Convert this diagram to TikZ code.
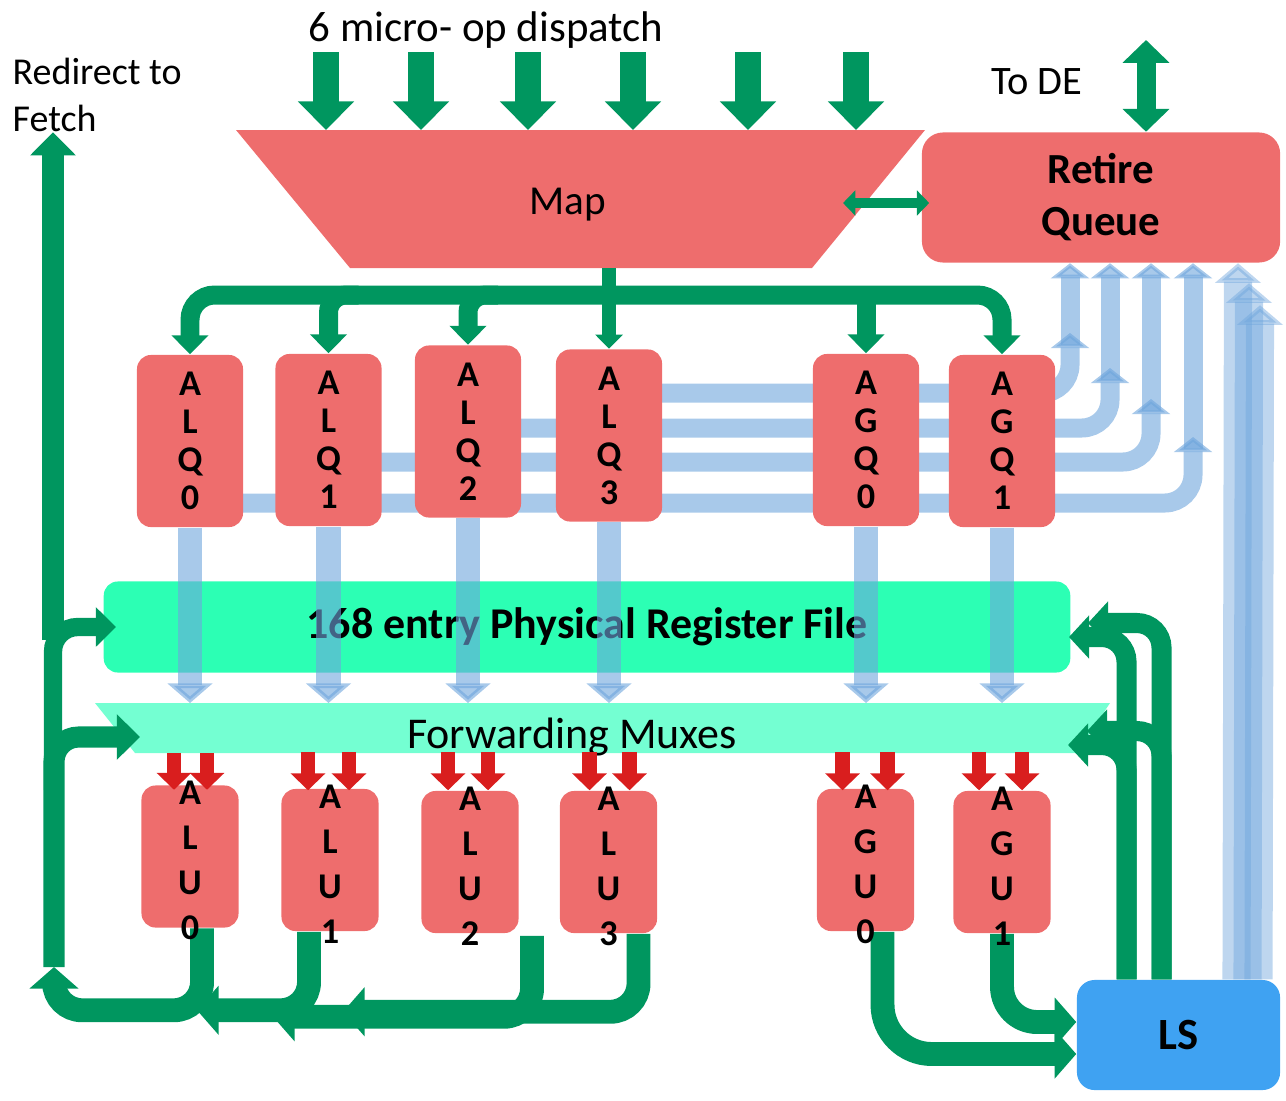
\documentclass[tikz,border=0pt]{standalone}
\usepackage{fontspec}
\setmainfont{Carlito}
\usetikzlibrary{arrows.meta,calc}

\definecolor{boxred}{HTML}{EE6D6D}
\definecolor{busgreen}{HTML}{00965F}
\definecolor{prfgreen}{HTML}{2CFFB4}
\definecolor{muxgreen}{HTML}{74FFD2}
\definecolor{lsblue}{HTML}{3FA2F2}
\definecolor{retblue}{HTML}{6EA5DC}
\definecolor{fwdred}{HTML}{D91E1E}

\tikzset{
	queue/.style={fill=boxred, rounded corners=4pt, minimum width=1.06cm, minimum height=1.72cm, inner sep=0pt, align=center, font=\fontsize{10.3}{10.8}\selectfont\bfseries},
	unit/.style={fill=boxred, rounded corners=4pt, minimum width=0.97cm, minimum height=1.42cm, inner sep=0pt},
	unittxt/.style={inner sep=0pt, align=center, font=\fontsize{10.3}{12.8}\selectfont\bfseries},
	dispatch/.style={draw=busgreen, line width=7.4pt, -{Triangle[width=0pt 2.1, length=0pt 1.1]}},
	branch/.style={draw=busgreen, line width=5.4pt, -{Triangle[width=0pt 1.9, length=0pt 1]}},
	twoway/.style={draw=busgreen, {Triangle[width=0pt 2.4, length=0pt 1.2]}-{Triangle[width=0pt 2.4, length=0pt 1.2]}},
	fwd/.style={draw=fwdred, line width=4pt, -{Triangle[width=0pt 2.4, length=0pt 1.2]}},
	regread/.style={draw=retblue, opacity=0.6, line width=7pt, -{Triangle[width=0pt 1.8, length=0pt 0.8]}},
	retire/.style={draw=retblue, opacity=0.6, line width=5.4pt, rounded corners=8pt, -{Triangle[width=0pt 2, length=0pt 0.8]}},
	lscol/.style={draw=retblue, opacity=0.45, line width=8pt, -{Triangle[width=0pt 1.6, length=0pt 0.7]}},
	result/.style={draw=busgreen, line width=6.8pt, rounded corners=8pt, -{Triangle[width=0pt 2, length=0pt 0.9]}},
	upbus/.style={draw=busgreen, line width=6pt, rounded corners=7pt, -{Triangle[width=0pt 2.1, length=0pt 1.1]}},
	lsbus/.style={draw=busgreen, line width=5.7pt, rounded corners=7pt, -{Triangle[width=0pt 2.1, length=0pt 1]}},
}

\begin{document}
\begin{tikzpicture}[x=0.01cm, y=-0.01cm]
	\useasboundingbox (0,0) rectangle (1286,1100);

	% labels
	\node[font=\fontsize{12.2}{14}\selectfont] (title) at (486,30) {6 micro- op dispatch};
	\node[anchor=north west, inner sep=0pt, align=left, font=\fontsize{10.8}{13.4}\selectfont] (redir) at (12,57) {Redirect to\\Fetch};
	\node[font=\fontsize{11.5}{14}\selectfont] (tode) at (1037,82) {To DE};

	% retire lines, behind the queues
	\coordinate (r0) at (190,503);
	\coordinate (r1) at (330,462);
	\coordinate (r2) at (468,428);
	\coordinate (r3) at (609,393);
	\coordinate (t0) at (1193,437);
	\coordinate (t1) at (1151,399);
	\coordinate (t2) at (1110,368);
	\coordinate (t3) at (1070,333);
	\draw[retire] (r0) -| (t0);
	\draw[retire] (r1) -| (t1);
	\draw[retire] (r2) -| (t2);
	\draw[retire] (r3) -| (t3);

	% map and retire queue
	\fill[boxred] (236,130) -- (925,130) -- (812,268) -- (350,268) -- cycle;
	\coordinate (maptop) at (580,130);
	\coordinate (mapbot) at (580,268);
	\node[font=\fontsize{11.7}{14}\selectfont] (map) at (568,205) {Map};
	\node[fill=boxred, rounded corners=6pt, minimum width=3.58cm, minimum height=1.3cm, align=center, font=\fontsize{12.2}{14.8}\selectfont\bfseries] (rq) at (1101,197.5) {Retire\\Queue};

	\draw[retire] ($(t0)+(0,12)$) -- (t0 |- rq.south);
	\draw[retire] ($(t1)+(0,12)$) -- (t1 |- rq.south);
	\draw[retire] ($(t2)+(0,12)$) -- (t2 |- rq.south);
	\draw[retire] ($(t3)+(0,12)$) -- (t3 |- rq.south);

	\coordinate (d1) at (326,52);
	\coordinate (d2) at (421,52);
	\coordinate (d3) at (528,52);
	\coordinate (d4) at (633,52);
	\coordinate (d5) at (748,52);
	\coordinate (d6) at (856,52);
	\draw[dispatch] (d1) -- (d1 |- maptop);
	\draw[dispatch] (d2) -- (d2 |- maptop);
	\draw[dispatch] (d3) -- (d3 |- maptop);
	\draw[dispatch] (d4) -- (d4 |- maptop);
	\draw[dispatch] (d5) -- (d5 |- maptop);
	\draw[dispatch] (d6) -- (d6 |- maptop);

	\coordinate (de) at (1146,40);
	\draw[twoway, line width=5.4pt] (de) -- (de |- rq.north);
	\coordinate (mr) at (843,203);
	\draw[twoway, line width=2.9pt] (mr) -- ($(mr -| rq.west)+(8,0)$);

	% schedulers
	\node[queue] (alq0) at (190,441) {A\\L\\Q\\0};
	\node[queue] (alq1) at (328.5,440) {A\\L\\Q\\1};
	\node[queue] (alq2) at (468,431.5) {A\\L\\Q\\2};
	\node[queue] (alq3) at (609,435.5) {A\\L\\Q\\3};
	\node[queue] (agq0) at (866,440) {A\\G\\Q\\0};
	\node[queue] (agq1) at (1002,441) {A\\G\\Q\\1};

	\coordinate (bar) at (608,295);
	\draw[branch, line width=4pt] (alq3 |- mapbot) -- (alq3.north);
	\draw[branch, rounded corners=7pt] (bar) -| (alq0.north);
	\draw[branch, rounded corners=7pt] (bar) -| (agq1.north);
	\draw[branch, rounded corners=5pt] ($(alq1 |- bar)+(30,0)$) -| (alq1.north);
	\draw[branch, rounded corners=5pt] ($(alq2 |- bar)+(30,0)$) -| (alq2.north);
	\draw[branch] (bar -| agq0) -- (agq0.north);

	% register file and muxes
	\node[fill=prfgreen, rounded corners=4pt, minimum width=9.66cm, minimum height=0.91cm, font=\fontsize{12.5}{14}\selectfont\bfseries] (prf) at (587,627) {168 entry Physical Register File};
	\fill[muxgreen] (95,703) -- (1110,703) -- (1077,753) -- (135,753) -- cycle;
	\coordinate (fmtop) at (602,703);
	\node[inner sep=0pt, font=\fontsize{12.5}{14}\selectfont] (fm) at (572,737) {Forwarding Muxes};

	\draw[regread] (alq0.south) -- (alq0 |- fmtop);
	\draw[regread] (alq1.south) -- (alq1 |- fmtop);
	\draw[regread] (alq2.south) -- (alq2 |- fmtop);
	\draw[regread] (alq3.south) -- (alq3 |- fmtop);
	\draw[regread] (agq0.south) -- (agq0 |- fmtop);
	\draw[regread] (agq1.south) -- (agq1 |- fmtop);

	% execution units
	\node[unit] (alu0) at (190,856.5) {};
	\node[unit] (alu1) at (330,860) {};
	\node[unit] (alu2) at (470,862) {};
	\node[unit] (alu3) at (608.5,862) {};
	\node[unit] (agu0) at (865.5,860) {};
	\node[unit] (agu1) at (1002,862) {};

	\draw[fwd] ($(alu0.north)+(-16,-32)$) -- ($(alu0.north)+(-16,5)$);
	\draw[fwd] ($(alu0.north)+(17,-32)$) -- ($(alu0.north)+(17,5)$);
	\draw[fwd] ($(alu1.north)+(-22,-36)$) -- ($(alu1.north)+(-22,2)$);
	\draw[fwd] ($(alu1.north)+(19,-36)$) -- ($(alu1.north)+(19,2)$);
	\draw[fwd] ($(alu2.north)+(-22,-38)$) -- ($(alu2.north)+(-22,0)$);
	\draw[fwd] ($(alu2.north)+(18,-38)$) -- ($(alu2.north)+(18,0)$);
	\draw[fwd] ($(alu3.north)+(-19,-38)$) -- ($(alu3.north)+(-19,0)$);
	\draw[fwd] ($(alu3.north)+(21,-38)$) -- ($(alu3.north)+(21,0)$);
	\draw[fwd] ($(agu0.north)+(-23,-36)$) -- ($(agu0.north)+(-23,2)$);
	\draw[fwd] ($(agu0.north)+(22,-36)$) -- ($(agu0.north)+(22,2)$);
	\draw[fwd] ($(agu1.north)+(-23,-38)$) -- ($(agu1.north)+(-23,0)$);
	\draw[fwd] ($(agu1.north)+(20,-38)$) -- ($(agu1.north)+(20,0)$);

	% result buses
	\coordinate (lj1) at (53,640);
	\coordinate (lj2) at (53,790);
	\coordinate (lj3) at (54,967);
	\coordinate (fmin) at (140,737);
	\draw[upbus] (lj1) -- (redir.south -| lj1);
	\draw[upbus, line width=5.2pt] (lj2) |- ($(prf.west)+(13,0)$);
	\draw[upbus] (lj3) |- (fmin);

	\draw[result] ($(alu3.south)+(30,0)$) |- ($(alu2.south)+(-127,78)$);
	\draw[result] ($(alu2.south)+(62,2)$) |- ($(alu1.south)+(-57,85)$);
	\draw[result] ($(alu1.south)+(-21,0)$) |- ($(alu0.south)+(7,82)$);
	\draw[result] ($(alu0.south)+(12,0)$) -- ++(0,82) -| (lj3);

	\node[fill=lsblue, rounded corners=5pt, minimum width=2.03cm, minimum height=1.1cm, font=\fontsize{12.7}{14}\selectfont\bfseries] (ls) at (1178.5,1035) {LS};

	\draw[result, rounded corners=14pt] ($(agu0.south)+(17,0)$) |- ($(ls.west)+(0,19)$);
	\draw[result, rounded corners=10pt] (agu1.south) |- ($(ls.west)+(0,-13)$);

	\coordinate (fmr1) at (1068,745);
	\coordinate (fmr2) at (1087,731);
	\draw[lsbus] ($(ls.north)+(-17,0)$) |- ($(prf.east)+(17,-4)$);
	\draw[lsbus] ($(ls.north)+(-17,0)$) |- (fmr2);
	\draw[lsbus] ($(ls.north)+(-52,0)$) |- ($(prf.east)+(-2,10)$);
	\draw[lsbus] ($(ls.north)+(-52,0)$) |- (fmr1);

	\draw[lscol] ($(ls.north)+(58,0)$) -- ($(rq.south)+(137,0)$);
	\draw[lscol] ($(ls.north)+(69,0)$) -- ($(rq.south)+(148,20)$);
	\draw[lscol] ($(ls.north)+(80,0)$) -- ($(rq.south)+(159,42)$);

	% unit names on top
	\node[unittxt] (alu0t) at ($(alu0)+(0,4)$) {A\\L\\U\\0};
	\node[unittxt] (alu1t) at ($(alu1)+(0,4)$) {A\\L\\U\\1};
	\node[unittxt] (alu2t) at ($(alu2)+(0,4)$) {A\\L\\U\\2};
	\node[unittxt] (alu3t) at ($(alu3)+(0,4)$) {A\\L\\U\\3};
	\node[unittxt] (agu0t) at ($(agu0)+(0,4)$) {A\\G\\U\\0};
	\node[unittxt] (agu1t) at ($(agu1)+(0,4)$) {A\\G\\U\\1};
\end{tikzpicture}
\end{document}
